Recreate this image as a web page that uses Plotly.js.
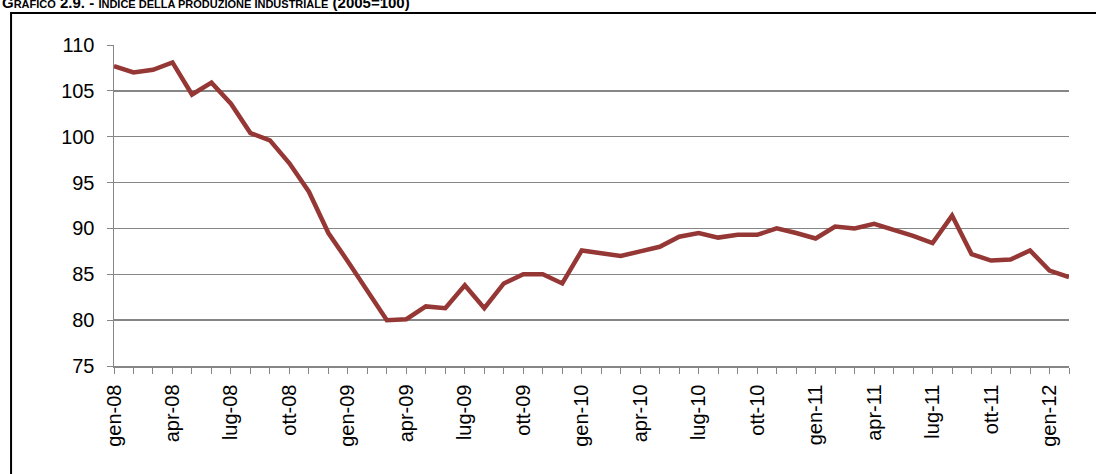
<!DOCTYPE html>
<html>
<head>
<meta charset="utf-8">
<script src="https://cdn.plot.ly/plotly-3.0.1.min.js"></script>
<style>
html,body{margin:0;padding:0;background:#fff;}
#chart{width:1096px;height:474px;}
</style>
</head>
<body>
<div id="chart"></div>
<script>
const months = [
  "gen-08","feb-08","mar-08","apr-08","mag-08","giu-08","lug-08","ago-08","set-08","ott-08","nov-08","dic-08",
  "gen-09","feb-09","mar-09","apr-09","mag-09","giu-09","lug-09","ago-09","set-09","ott-09","nov-09","dic-09",
  "gen-10","feb-10","mar-10","apr-10","mag-10","giu-10","lug-10","ago-10","set-10","ott-10","nov-10","dic-10",
  "gen-11","feb-11","mar-11","apr-11","mag-11","giu-11","lug-11","ago-11","set-11","ott-11","nov-11","dic-11",
  "gen-12","feb-12"
];
const indice = [
  107.7,107.0,107.3,108.1,104.6,105.9,103.6,100.4,99.6,97.1,94.0,89.5,
  86.4,83.1,80.0,80.1,81.5,81.3,83.8,81.3,84.0,85.0,85.0,84.0,
  87.6,87.3,87.0,87.5,88.0,89.1,89.5,89.0,89.3,89.3,90.0,89.5,
  88.9,90.2,90.0,90.5,89.9,89.2,88.4,91.4,87.2,86.5,86.6,87.6,
  85.4,84.7
];
const labelEvery = 3;
const tickText = months.map((m, i) => (i % labelEvery === 0 ? m : ""));
const titleHtml =
  "<b>G<span style='font-size:11px'>RAFICO</span> 2.9. - <span style='font-size:11px'>INDICE DELLA PRODUZIONE INDUSTRIALE</span> (2005=100)</b>";

const L = 114, R = 26.5, T = 45, B = 108, W = 1096, H = 474;
const pw = W - L - R, ph = H - T - B;
const px = x => (x - L) / pw;
const py = y => (H - B - y) / ph;

const trace = {
  x: months,
  y: indice,
  type: "scatter",
  mode: "lines",
  line: {color: "#953735", width: 4.5},
  hoverinfo: "x+y"
};

const layout = {
  width: W, height: H,
  margin: {l: L, r: R, t: T, b: B, pad: 0},
  paper_bgcolor: "#ffffff",
  plot_bgcolor: "#ffffff",
  showlegend: false,
  font: {family: "Liberation Sans, Arial, sans-serif", color: "#000"},
  xaxis: {
    type: "category",
    range: [0, months.length - 1],
    tickmode: "array",
    tickvals: months,
    ticktext: tickText,
    tickangle: -90,
    ticks: "outside",
    ticklen: 6,
    tickwidth: 1,
    tickcolor: "#868686",
    showline: true,
    linecolor: "#868686",
    linewidth: 1.5,
    showgrid: false,
    zeroline: false,
    tickfont: {size: 20, color: "#000", family: "Liberation Sans, Arial, sans-serif"},
    ticklabelstandoff: 3
  },
  yaxis: {
    range: [75, 110],
    tickmode: "linear",
    tick0: 75,
    dtick: 5,
    ticks: "outside",
    ticklen: 6,
    tickwidth: 1,
    tickcolor: "#868686",
    showline: true,
    linecolor: "#868686",
    linewidth: 1.5,
    showgrid: true,
    gridcolor: "#868686",
    gridwidth: 1.5,
    zeroline: false,
    tickfont: {size: 20, color: "#000", family: "Liberation Sans, Arial, sans-serif"},
    ticklabelstandoff: 8
  },
  annotations: [{
    text: titleHtml,
    xref: "paper", yref: "paper",
    x: px(0), y: py(13),
    xanchor: "left", yanchor: "bottom",
    showarrow: false,
    font: {size: 15, color: "#000", family: "Liberation Sans, Arial, sans-serif"}
  }],
  shapes: [{
    type: "rect",
    xref: "paper", yref: "paper",
    x0: px(11), x1: px(1120),
    y0: py(13), y1: py(500),
    line: {color: "#000", width: 2},
    fillcolor: "rgba(0,0,0,0)"
  }]
};

Plotly.newPlot("chart", [trace], layout, {displayModeBar: false, staticPlot: true});
</script>
</body>
</html>
